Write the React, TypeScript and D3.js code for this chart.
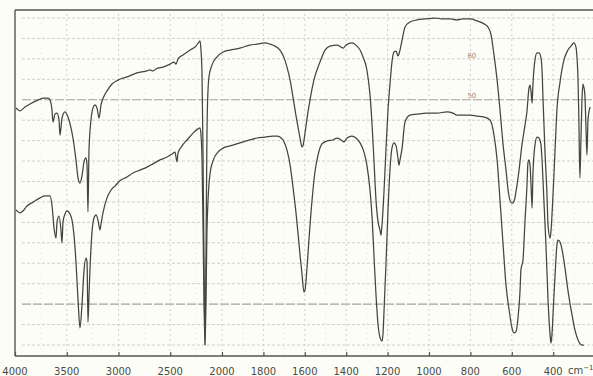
import React, { useEffect, useRef } from "react";
import * as d3 from "d3";

// wavenumber (cm-1), transmittance (%)
const upperTrace: [number, number][] = [
  [3990, 72.5], [3952, 71.6], [3903, 72.8], [3855, 73.7], [3778, 74.9], [3720, 75.5],
  [3681, 75.5], [3662, 74.9], [3643, 71.9], [3633, 68.2], [3614, 70.6], [3594, 70.9],
  [3575, 68.8], [3565, 64.2], [3546, 69.4], [3517, 71.3], [3488, 69.7], [3459, 66.4],
  [3440, 63.3], [3411, 56.6], [3391, 51.1], [3372, 49.5], [3353, 51.7], [3333, 56.0],
  [3314, 57.2], [3304, 55.0], [3295, 40.7], [3285, 59.6], [3266, 68.8], [3246, 72.5],
  [3227, 73.4], [3208, 72.5], [3188, 69.4], [3169, 73.4], [3140, 76.1], [3111, 77.7],
  [3063, 79.8], [3005, 81.0], [2918, 82.0], [2821, 83.2], [2725, 83.8], [2696, 84.1],
  [2667, 83.8], [2638, 84.4], [2570, 85.0], [2502, 85.9], [2464, 86.5], [2444, 85.9],
  [2425, 87.5], [2377, 88.7], [2309, 90.2], [2251, 91.4], [2222, 92.7], [2213, 93.0],
  [2203, 90.2], [2193, 82.6], [2184, 59.6], [2174, 26.0], [2164, 0], [2155, 26.0],
  [2145, 65.7], [2135, 78.0], [2126, 82.0], [2097, 85.6], [2048, 88.1], [1995, 89.6],
  [1961, 90.2], [1913, 90.8], [1865, 91.7], [1831, 92.0], [1792, 92.4], [1768, 92.0],
  [1744, 91.4], [1720, 90.2], [1700, 87.8], [1686, 85.0], [1671, 81.0], [1657, 75.8],
  [1643, 70.3], [1633, 66.7], [1623, 63.3], [1614, 60.6], [1609, 60.9], [1599, 64.8],
  [1589, 69.4], [1575, 74.9], [1556, 81.0], [1527, 86.5], [1502, 90.2], [1478, 91.4],
  [1444, 91.7], [1425, 91.1], [1415, 90.8], [1401, 91.7], [1372, 92.4], [1353, 91.7],
  [1333, 90.2], [1319, 88.1], [1300, 84.1], [1285, 76.5], [1275, 67.3], [1266, 56.6],
  [1256, 44.3], [1246, 37.6], [1237, 35.2], [1232, 33.6], [1227, 36.7], [1217, 47.4],
  [1208, 59.6], [1198, 71.9], [1188, 80.1], [1179, 86.5], [1169, 89.6], [1159, 89.9],
  [1150, 88.4], [1140, 90.2], [1130, 93.3], [1116, 97.2], [1092, 98.8], [1058, 99.4],
  [1019, 99.7], [971, 100], [932, 99.7], [899, 99.7], [865, 99.4], [836, 99.7],
  [802, 99.7], [768, 99.1], [734, 98.2], [715, 97.2], [700, 94.8], [686, 88.7],
  [671, 81.0], [657, 71.9], [642, 61.2], [628, 53.5], [618, 47.4], [609, 44.3],
  [599, 43.4], [589, 44.0], [580, 46.8], [565, 53.5], [551, 61.2], [536, 67.3],
  [527, 71.3], [517, 78.6], [512, 79.5], [507, 77.4], [502, 74.0], [498, 79.5],
  [488, 87.2], [478, 89.3], [469, 89.3], [459, 87.8], [454, 84.1], [449, 74.9],
  [440, 59.6], [430, 45.9], [425, 36.7], [415, 32.7], [411, 34.6], [401, 45.9],
  [391, 59.6], [382, 71.9], [367, 80.4], [348, 87.2], [329, 90.2], [314, 91.4],
  [300, 92.4], [290, 91.1], [286, 88.7], [280, 81.0], [276, 68.8], [271, 51.1],
  [266, 62.7], [261, 74.9], [256, 79.8], [252, 78.9], [247, 76.5], [242, 67.3],
  [237, 58.1], [232, 68.8], [222, 72.8],
];

const lowerTrace: [number, number][] = [
  [3990, 41.3], [3952, 40.4], [3923, 41.0], [3884, 42.5], [3826, 43.7], [3758, 45.0],
  [3710, 45.6], [3662, 45.6], [3643, 42.8], [3623, 35.8], [3604, 32.7], [3594, 37.6],
  [3575, 39.4], [3556, 35.2], [3546, 31.2], [3536, 37.6], [3517, 40.1], [3498, 41.0],
  [3469, 40.1], [3449, 38.2], [3430, 33.6], [3411, 25.4], [3391, 13.8], [3372, 5.2],
  [3353, 12.2], [3333, 22.9], [3314, 26.6], [3304, 25.4], [3295, 7.0], [3285, 15.3],
  [3275, 23.5], [3256, 34.6], [3237, 38.8], [3217, 39.8], [3198, 38.2], [3179, 35.2],
  [3169, 37.0], [3150, 40.4], [3111, 45.0], [3072, 47.4], [3034, 48.6], [2986, 50.2],
  [2918, 51.4], [2860, 52.6], [2792, 53.5], [2725, 54.4], [2667, 55.4], [2599, 56.6],
  [2531, 57.5], [2483, 58.4], [2454, 59.0], [2435, 56.0], [2425, 58.7], [2386, 60.9],
  [2338, 62.7], [2280, 64.8], [2232, 66.1], [2213, 66.4], [2203, 64.2], [2193, 56.6],
  [2184, 38.2], [2174, 13.8], [2164, 0], [2155, 13.8], [2145, 35.2], [2135, 44.3],
  [2116, 52.3], [2087, 56.3], [2039, 59.0], [1995, 60.2], [1961, 60.9], [1913, 61.8],
  [1865, 62.7], [1831, 63.3], [1792, 63.6], [1754, 63.9], [1734, 63.9], [1720, 63.6],
  [1700, 62.1], [1686, 59.6], [1671, 55.0], [1657, 48.3], [1643, 40.7], [1633, 34.3],
  [1623, 27.5], [1614, 22.0], [1604, 16.2], [1599, 16.8], [1589, 23.9], [1580, 32.1],
  [1565, 44.3], [1551, 52.9], [1536, 58.1], [1517, 61.5], [1493, 62.4], [1464, 62.7],
  [1444, 63.3], [1425, 62.7], [1411, 62.1], [1396, 63.3], [1372, 63.9], [1353, 63.3],
  [1333, 61.8], [1314, 59.0], [1300, 55.0], [1285, 47.4], [1275, 39.1], [1266, 27.5],
  [1256, 15.3], [1246, 6.1], [1237, 2.4], [1227, 1.2], [1222, 3.7], [1217, 10.7],
  [1208, 24.5], [1198, 41.3], [1188, 54.1], [1179, 60.2], [1169, 61.8], [1159, 60.9],
  [1150, 57.2], [1145, 55.0], [1140, 56.6], [1130, 60.2], [1116, 68.2], [1092, 70.3],
  [1058, 70.6], [1010, 70.9], [961, 70.9], [913, 71.3], [884, 70.9], [865, 70.3],
  [836, 70.3], [802, 70.3], [768, 70.0], [734, 69.7], [705, 68.8], [686, 64.2],
  [671, 56.6], [657, 44.3], [642, 30.6], [628, 18.3], [613, 10.7], [599, 5.2],
  [589, 3.7], [580, 4.0], [570, 8.3], [560, 16.8], [556, 22.9], [546, 26.0],
  [536, 38.2], [527, 48.3], [522, 55.7], [517, 56.6], [512, 55.0], [507, 48.9],
  [502, 41.9], [498, 52.0], [488, 61.2], [478, 63.6], [469, 63.3], [459, 61.2],
  [454, 56.6], [445, 44.3], [435, 30.6], [425, 13.8], [415, 3.1], [411, 0.6],
  [406, 3.1], [401, 9.2], [391, 21.4], [382, 30.6], [377, 32.1], [367, 31.5],
  [357, 29.1], [343, 23.5], [329, 16.8], [309, 9.2], [295, 4.6], [280, 1.5],
  [261, 0], [252, 0],
];

const xTickLabels = [4000, 3500, 3000, 2500, 2000, 1800, 1600, 1400, 1200, 1000, 800, 600, 400];
const minorLines = [3750, 3250, 2750, 2250, 1900, 1700, 1500, 1300, 1100, 900, 700, 500, 300];
const chartMarks = [{ t: 87.8, label: "60" }, { t: 75.5, label: "50" }];

let W = 593,
  H = 376;
let lineColor = "#44453d",
  gridColor = "#cbcbc1";

let drawSpectrum = (node: SVGSVGElement) => {
  const svg = d3.select(node);
  svg.selectAll("*").remove();

  // grating change at 2000 cm-1 -> scale doubles
  const x = d3.scaleLinear().domain([4000, 2000, 200]).range([15, 222, 594.6]);
  const y = d3.scaleLinear().domain([0, 100]).range([345, 18]);
  const axisY = 356,
    topY = 10;

  svg.append("rect").attr("width", W).attr("height", H).attr("fill", "#fdfdf7");

  // horizontal chart-paper lines
  const g = svg.append("g");
  d3.range(0, 100.01, 6.25).forEach((t, i) => {
    const strong = i === 2 || i === 12;
    g.append("line")
      .attr("x1", 22).attr("x2", 594)
      .attr("y1", y(t)).attr("y2", y(t))
      .attr("stroke", strong ? "#a2a298" : gridColor)
      .attr("stroke-width", strong ? 1.1 : 0.9)
      .attr("stroke-dasharray", strong ? "9,2" : "3,2");
  });

  // vertical chart-paper lines
  xTickLabels.slice(1).forEach(w => {
    g.append("line")
      .attr("x1", x(w)).attr("x2", x(w))
      .attr("y1", topY + 4).attr("y2", axisY)
      .attr("stroke", gridColor).attr("stroke-width", 0.9)
      .attr("stroke-dasharray", "2,3");
  });
  minorLines.forEach(w => {
    g.append("line")
      .attr("x1", x(w)).attr("x2", x(w))
      .attr("y1", topY + 8).attr("y2", axisY)
      .attr("stroke", "#deded6").attr("stroke-width", 0.8)
      .attr("stroke-dasharray", "1,4");
  });

  chartMarks.forEach(m => {
    g.append("text")
      .attr("x", x(800) - 3).attr("y", y(m.t))
      .attr("font-family", "DejaVu Sans").attr("font-size", 7)
      .attr("fill", "#8e8e86").text(m.label);
  });

  // frame
  svg.append("line").attr("x1", 15).attr("x2", 594).attr("y1", topY).attr("y2", topY)
    .attr("stroke", "#55564c").attr("stroke-width", 1.6);
  svg.append("line").attr("x1", 15).attr("x2", 15).attr("y1", topY).attr("y2", axisY)
    .attr("stroke", "#55564c").attr("stroke-width", 1.4);

  const xAxis = d3.axisBottom(x).tickValues(xTickLabels).tickSize(-4).tickFormat(() => "");
  const ax = svg.append("g").attr("transform", `translate(0,${axisY})`).call(xAxis);
  ax.select(".domain").attr("d", `M15,0H594`).attr("stroke", "#55564c").attr("stroke-width", 1.4);
  ax.selectAll(".tick line").attr("stroke", "#55564c").attr("stroke-width", 1.2);

  svg.append("g").selectAll("text").data(xTickLabels).enter().append("text")
    .attr("x", d => x(d)).attr("y", 375)
    .attr("text-anchor", "middle")
    .attr("font-family", "DejaVu Sans").attr("font-size", 10)
    .attr("fill", "#4a4a44")
    .text(d => d);

  const unit = svg.append("text").attr("x", 568).attr("y", 374)
    .attr("font-family", "DejaVu Sans").attr("font-size", 10).attr("fill", "#4a4a44");
  unit.append("tspan").text("cm");
  unit.append("tspan").attr("dy", -4).attr("font-size", 7).text("−1");

  const line = d3.line<[number, number]>()
    .x(d => x(d[0]))
    .y(d => y(d[1]))
    .curve(d3.curveMonotoneX);

  [upperTrace, lowerTrace].forEach(trace => {
    svg.append("path")
      .attr("d", line(trace))
      .attr("fill", "none")
      .attr("stroke", lineColor)
      .attr("stroke-width", 1.25)
      .attr("stroke-linejoin", "round");
  });
};

export default function App() {
  const ref = useRef<SVGSVGElement>(null);
  useEffect(() => {
    if (ref.current) drawSpectrum(ref.current);
  }, []);
  return (
    <svg
      ref={ref}
      width={W}
      height={H}
      style={{ position: "absolute", left: 0, top: 0, display: "block" }}
    />
  );
}
